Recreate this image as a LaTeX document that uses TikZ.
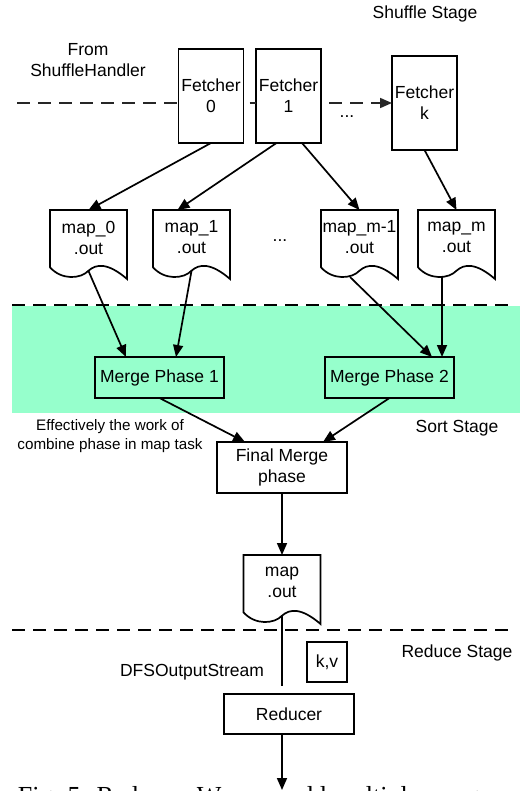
\documentclass[tikz,border=0pt]{standalone}
\usepackage{fontspec}
\setmainfont{Liberation Sans}
\newfontfamily\capfont{Liberation Serif}
\usetikzlibrary{arrows.meta}
\definecolor{sortgreen}{RGB}{150,255,204}
% outline of a map output file, drawn over the (empty) node #1
\newcommand{\docline}[1]{%
	\begin{scope}[shift={(#1.north west)}]
		\draw (0,0) -- (77,0) -- (77,69) .. controls (57.75,52.4) and (46.2,53.8) .. (38.5,60.7)
			.. controls (30.8,69) and (11.55,70.4) .. (0,57.3) -- cycle;
	\end{scope}}

\begin{document}
\begin{tikzpicture}[x=1pt, y=-1pt, line width=1.7pt,
	every node/.style={font=\fontsize{17.5}{21}\selectfont},
	box/.style={draw, align=center, inner sep=0pt, outer sep=0pt},
	fetchbox/.style={box, minimum width=65pt, minimum height=94pt},
	mergebox/.style={box, fill=sortgreen, minimum width=129pt, minimum height=41pt},
	docfile/.style={minimum width=77pt, minimum height=69pt, inner sep=0pt, outer sep=0pt},
	doctext/.style={align=center, yshift=7pt, inner sep=0pt},
	stagedash/.style={dash pattern=on 13pt off 8pt},
	flow/.style={-{Triangle[length=12pt,width=10pt]}}]
				\clip (0,0) rectangle (524,791);
				% sort stage band
				\fill[sortgreen] (12,306) rectangle (520,413);
				\draw[stagedash] (12,305) -- (514,305);
				\draw[stagedash] (12,630) -- (514,630);

				\node (shufflelbl) at (425,14) {Shuffle Stage};
				\node[align=center] (fromlbl) at (88,60) {From\\ShuffleHandler};
				\node (sortlbl) at (457,428) {Sort Stage};
				\node (reducelbl) at (457,653) {Reduce Stage};
				\node[align=center, font=\fontsize{15.2}{19}\selectfont] (combinelbl) at (110,436)
				{Effectively the work of\\combine phase in map task};
				\node (dfslbl) at (192,672) {DFSOutputStream};

				% fetchers
				\node[fetchbox] (f0) at (211,96) {Fetcher\\0};
				\node[fetchbox] (f1) at (288.5,96) {Fetcher\\1};
				\node[fetchbox] (fk) at (424.5,103) {Fetcher\\k};
				\node (fdots) at (347,117) {...};
				\coordinate (handler) at (17,103);
				\draw[stagedash, black!85] (handler) -- (handler -| f0.west);
				\draw[black!85] ([xshift=6pt]handler -| f0.east) -- (handler -| f1.west);
				\draw[stagedash, black!85, flow] ([xshift=8pt]handler -| f1.east) -- (handler -| fk.west);

				% map outputs
				\node[docfile, label={[name=m0t, doctext]center:map\_0\\.out}] (m0) at (88.5,244.5) {};
				\node[docfile, label={[name=m1t, doctext]center:map\_1\\.out}] (m1) at (191.5,244.5) {};
				\node[docfile, label={[name=mm1t, doctext]center:map\_m-1\\.out}] (mm1) at (359.5,244.5) {};
				\node[docfile, label={[name=mmt, doctext]center:map\_m\\.out}] (mm) at (456.5,244.5) {};
				\node (mdots) at (280,241) {...};
				\docline{m0}
				\docline{m1}
				\docline{mm1}
				\docline{mm}

				\draw[flow] (f0.south) -- (m0.north);
				\draw[flow] ([xshift=-12pt]f1.south) -- ([xshift=-14pt]m1.north);
				\draw[flow] ([xshift=13.5pt]f1.south) -- (mm1.north);
				\draw[flow] (fk.south) -- (mm.north);

				% merges
				\node[mergebox] (mp1) at (159.5,377.5) {Merge Phase 1};
				\node[mergebox] (mp2) at (389.5,377.5) {Merge Phase 2};
				\draw[flow] ([yshift=8pt]m0.south) -- ([xshift=-33.5pt]mp1.north);
				\draw[flow] ([yshift=8pt]m1.south) -- ([xshift=16.5pt]mp1.north);
				\draw[flow] ([xshift=-9.5pt,yshift=2pt]mm1.south) -- ([xshift=42.5pt]mp2.north);
				\draw[flow] ([xshift=-14.5pt,yshift=2pt]mm.south) -- ([xshift=52.5pt]mp2.north);

				\node[box, minimum width=130pt, minimum height=51pt] (fm) at (282,467.5) {Final Merge\\phase};
				\draw[flow] (mp1.south) -- ([xshift=-37pt]fm.north);
				\draw[flow] (mp2.south) -- ([xshift=41pt]fm.north);

				% reduce stage
				\node[docfile, label={[name=mot, doctext]center:map\\.out}] (mo) at (282,589.5) {};
				\docline{mo}
				\draw[flow] (fm.south) -- (mo.north);
				\node[box, minimum width=40pt, minimum height=40pt] (kv) at (327,662) {k,v};
				\node[box, minimum width=130pt, minimum height=40pt] (red) at (289,714) {Reducer};
				\draw ([yshift=8pt]mo.south) -- ([yshift=8pt]mo.south |- red.north);
				\coordinate (redout) at (282,790);
				\draw[flow] (redout |- red.south) -- (redout);

				\node[anchor=base west, inner sep=0pt, font=\capfont\fontsize{26}{31}\selectfont] (caption) at (17,804)
				{Fig. 5: Reducer. We may add multiple merges};
			\end{tikzpicture}
\end{document}
